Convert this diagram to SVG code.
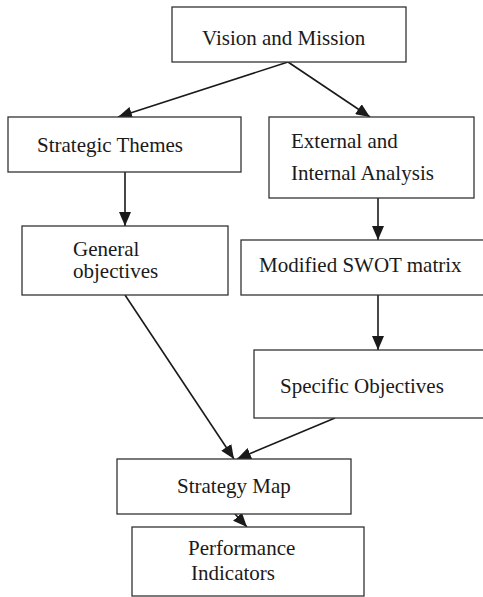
<svg xmlns="http://www.w3.org/2000/svg" width="483" height="597" viewBox="0 0 483 597">
  <style>
    .box { fill: #fff; stroke: #333; stroke-width: 1.3; }
    .lbl { font-family: "Liberation Serif", "Times New Roman", serif; font-size: 21px; fill: #1a1a1a; }
    .edge { stroke: #1a1a1a; stroke-width: 1.6; fill: none; marker-end: url(#head); }
  </style>
  <defs>
    <marker id="head" viewBox="0 0 14 12" refX="14" refY="6" markerWidth="14" markerHeight="12" markerUnits="userSpaceOnUse" orient="auto">
      <path d="M0,0 L14,6 L0,12 Z" fill="#1a1a1a"/>
    </marker>
  </defs>

  <g id="connectors">
    <line class="edge" x1="288" y1="62" x2="118" y2="117"/>
    <line class="edge" x1="288" y1="62" x2="370" y2="117"/>
    <line class="edge" x1="125" y1="172" x2="125" y2="226"/>
    <line class="edge" x1="378" y1="198" x2="378" y2="240"/>
    <line class="edge" x1="378" y1="295" x2="378" y2="350"/>
    <line class="edge" x1="125" y1="295" x2="234" y2="459"/>
    <line class="edge" x1="335" y1="418" x2="237" y2="459"/>
    <line class="edge" x1="235" y1="514" x2="247" y2="527"/>
  </g>

  <g id="vision">
    <rect class="box" x="172" y="7" width="234" height="55"/>
    <text class="lbl" x="202" y="45">Vision and Mission</text>
  </g>

  <g id="themes">
    <rect class="box" x="8" y="117" width="233" height="55"/>
    <text class="lbl" x="37" y="152">Strategic Themes</text>
  </g>

  <g id="analysis">
    <rect class="box" x="269" y="117" width="205" height="81"/>
    <text class="lbl" x="291" y="148">External and</text>
    <text class="lbl" x="291" y="180">Internal Analysis</text>
  </g>

  <g id="general">
    <rect class="box" x="22" y="226" width="206" height="69"/>
    <text class="lbl" x="73" y="256">General</text>
    <text class="lbl" x="73" y="278">objectives</text>
  </g>

  <g id="swot">
    <rect class="box" x="241" y="240" width="250" height="55"/>
    <text class="lbl" x="259" y="272">Modified SWOT matrix</text>
  </g>

  <g id="specific">
    <rect class="box" x="254" y="350" width="240" height="68"/>
    <text class="lbl" x="280" y="393">Specific Objectives</text>
  </g>

  <g id="strategy-map">
    <rect class="box" x="117" y="459" width="234" height="55"/>
    <text class="lbl" x="177" y="493">Strategy Map</text>
  </g>

  <g id="indicators">
    <rect class="box" x="132" y="527" width="232" height="69"/>
    <text class="lbl" x="188" y="555">Performance</text>
    <text class="lbl" x="191" y="580">Indicators</text>
  </g>
</svg>
